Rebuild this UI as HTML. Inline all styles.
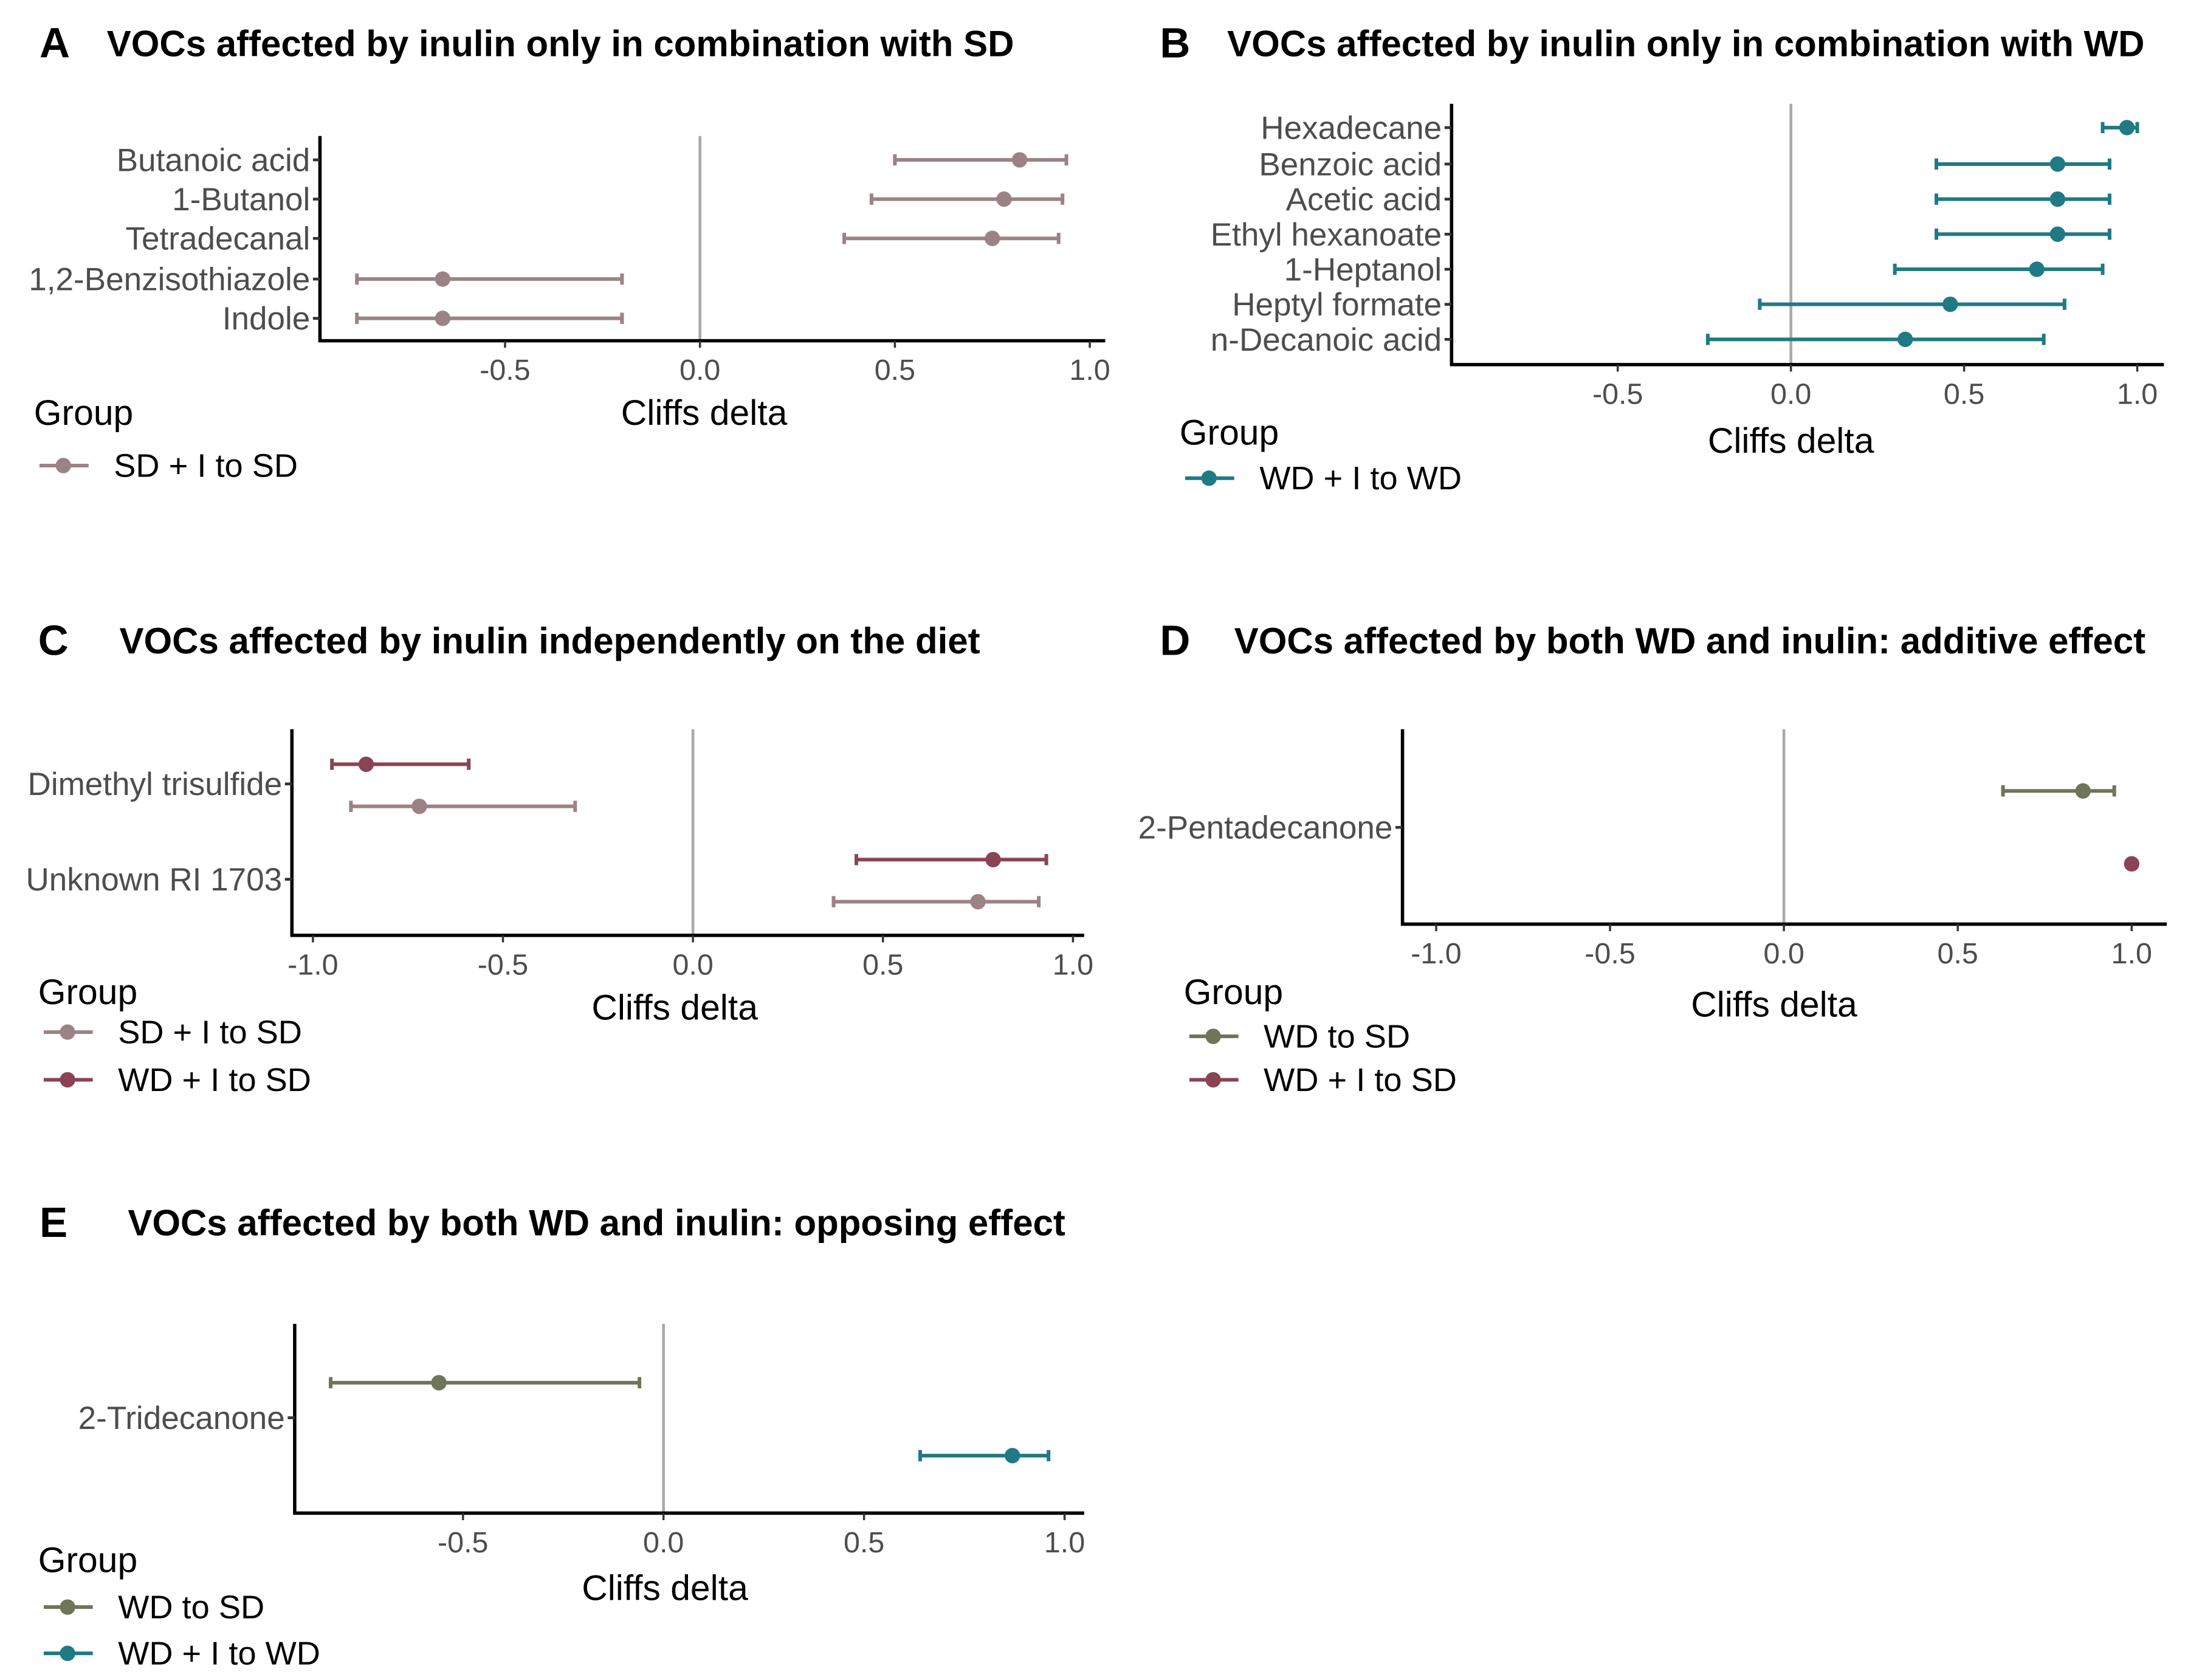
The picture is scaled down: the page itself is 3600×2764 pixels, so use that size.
<!DOCTYPE html>
<html><head><meta charset="utf-8"><style>
html,body{margin:0;padding:0;background:#fff}
svg{display:block}
text{font-family:"Liberation Sans",Arial,sans-serif}
</style></head><body>
<svg id="fig" width="3600" height="2764" viewBox="0 0 1560 1198" xmlns="http://www.w3.org/2000/svg"><g id="root" transform="translate(-2,-1)"></g></svg>
<script>
// Panel A data
const aCategories = ["Butanoic acid","1-Butanol","Tetradecanal","1,2-Benzisothiazole","Indole"];
const aEst = [0.82,0.78,0.75,-0.66,-0.66];
const aLow = [0.50,0.44,0.37,-0.88,-0.88];
const aHigh = [0.94,0.93,0.92,-0.20,-0.20];
// Panel B data
const bCategories = ["Hexadecane","Benzoic acid","Acetic acid","Ethyl hexanoate","1-Heptanol","Heptyl formate","n-Decanoic acid"];
const bEst = [0.97,0.77,0.77,0.77,0.71,0.46,0.33];
const bLow = [0.90,0.42,0.42,0.42,0.30,-0.09,-0.24];
const bHigh = [1.00,0.92,0.92,0.92,0.90,0.79,0.73];
// Panel C data
const cCategories = ["Dimethyl trisulfide","Unknown RI 1703"];
const cSdEst = [-0.72,0.75], cSdLow = [-0.90,0.37], cSdHigh = [-0.31,0.91];
const cWdEst = [-0.86,0.79], cWdLow = [-0.95,0.43], cWdHigh = [-0.59,0.93];
// Panel D data
const dCategories = ["2-Pentadecanone"];
const dWdEst = [0.86], dWdLow = [0.63], dWdHigh = [0.95];
const dWdiEst = [1.00], dWdiLow = [1.00], dWdiHigh = [1.00];
// Panel E data
const eCategories = ["2-Tridecanone"];
const eWdEst = [-0.56], eWdLow = [-0.83], eWdHigh = [-0.06];
const eWdiEst = [0.87], eWdiLow = [0.64], eWdiHigh = [0.96];
const xTicksAB = [-0.5,0,0.5,1.0];
const xTicksCD = [-1.0,-0.5,0,0.5,1.0];
const xTickLabelsAB = ["-0.5","0.0","0.5","1.0"];
const xTickLabelsCD = ["-1.0","-0.5","0.0","0.5","1.0"];

const C_SDI="#9b8385", C_WDIW="#1f7a85", C_WDIS="#8b4455", C_WD="#6e7558";
const svg=document.getElementById('root');
const NS="http://www.w3.org/2000/svg";
function mk(tag,attrs,parent){const e=document.createElementNS(NS,tag);for(const k in attrs)e.setAttribute(k,attrs[k]);(parent||svg).appendChild(e);return e;}
function txt(s,x,y,size,fill,anchor,weight,parent){const t=mk('text',{x:x,y:y,'font-size':size,fill:fill,'text-anchor':anchor||'start','font-weight':weight||'normal'},parent);t.textContent=s;return t;}

function panel(p){
  const g=mk('g',{});
  
  
  const sx=v=>p.x0+(v-p.v0)*p.ppu;
  const tl=txt(p.id.toUpperCase(),p.tx,p.ty+10,30,'#000','start','bold',g);
  
  
  const tt=txt(p.title,p.ttx,p.ty+9,26,'#000','start','bold',g);
  
  
  const zl=mk('line',{x1:sx(0),x2:sx(0),y1:p.yTop,y2:p.yBot,stroke:'#aaa','stroke-width':2},g);
  
  
  const ya=mk('line',{x1:p.axX,x2:p.axX,y1:p.yTop,y2:p.yBot+1,stroke:'#000','stroke-width':2.4},g);
  
  
  const xa=mk('line',{x1:p.axX-1,x2:p.xEnd,y1:p.yBot,y2:p.yBot,stroke:'#000','stroke-width':2.4},g);
  
  
  p.ticks.forEach((v,i)=>{
    mk('line',{x1:sx(v),x2:sx(v),y1:p.yBot,y2:p.yBot+5,stroke:'#333','stroke-width':1.5},g);
    const t=txt(p.tickLabels[i],sx(v),p.yBot+28,21,'#4d4d4d','middle','normal',g);
    
    
  });
  p.cats.forEach((c,i)=>{
    const y=p.catY[i];
    mk('line',{x1:p.axX-5,x2:p.axX,y1:y,y2:y,stroke:'#333','stroke-width':2},g);
    const t=txt(c,p.axX-7,y+8,23,'#4d4d4d','end','normal',g);
    
    
  });
  const xt=txt('Cliffs delta',p.xtX,p.xtY+9,25.5,'#000','middle','normal',g);
  
  
  p.series.forEach(s=>{
    s.est.forEach((v,i)=>{
      const y=p.catY[i]+s.off;
      if(s.high[i]>s.low[i]){
        const eb=mk('path',{d:`M${sx(s.low[i])},${y}H${sx(s.high[i])}M${sx(s.low[i])},${y-4}V${y+4}M${sx(s.high[i])},${y-4}V${y+4}`,stroke:s.color,'stroke-width':2.6,fill:'none'},g);
        
        
      }
      const pt=mk('circle',{cx:sx(v),cy:y,r:5.5,fill:s.color},g);
      
      
    });
  });
  const lg=txt('Group',p.lgX,p.lgY+9,25.5,'#000','start','normal',g);
  
  
  p.legend.forEach(l=>{
    const le=mk('g',{},g);
    
    
    mk('line',{x1:p.lgX+4,x2:p.lgX+39,y1:l.y,y2:l.y,stroke:l.color,'stroke-width':2.6},le);
    mk('circle',{cx:p.lgX+21,cy:l.y,r:5.5,fill:l.color},le);
    txt(l.label,p.lgX+57,l.y+8,23.5,'#000','start','normal',le);
  });
}

panel({id:'a',title:'VOCs affected by inulin only in combination with SD',tx:30,ty:32,ttx:78,
  x0:501,v0:0,ppu:278,axX:230,xEnd:790,yTop:98,yBot:244,ticks:xTicksAB,tickLabels:xTickLabelsAB,
  cats:aCategories,catY:[115,143,171,200,228],xtX:504,xtY:295,
  series:[{est:aEst,low:aLow,high:aHigh,color:C_SDI,off:0}],
  lgX:26,lgY:295,legend:[{y:333,color:C_SDI,label:'SD + I to SD'}]});

panel({id:'b',title:'VOCs affected by inulin only in combination with WD',tx:829,ty:32,ttx:877,
  x0:1279,v0:0,ppu:247,axX:1037,xEnd:1545,yTop:75,yBot:261,ticks:xTicksAB,tickLabels:xTickLabelsAB,
  cats:bCategories,catY:[92,118,143,168,193,218,243],xtX:1279,xtY:315,
  series:[{est:bEst,low:bLow,high:bHigh,color:C_WDIW,off:0}],
  lgX:843,lgY:309,legend:[{y:342,color:C_WDIW,label:'WD + I to WD'}]});

panel({id:'c',title:'VOCs affected by inulin independently on the diet',tx:29,ty:458,ttx:87,
  x0:496,v0:0,ppu:271,axX:210,xEnd:775,yTop:521,yBot:668,ticks:xTicksCD,tickLabels:xTickLabelsCD,
  cats:cCategories,catY:[560,628],xtX:483,xtY:719,
  series:[{est:cWdEst,low:cWdLow,high:cWdHigh,color:C_WDIS,off:-14},
          {est:cSdEst,low:cSdLow,high:cSdHigh,color:C_SDI,off:16}],
  lgX:29,lgY:708,legend:[{y:737,color:C_SDI,label:'SD + I to SD'},{y:771,color:C_WDIS,label:'WD + I to SD'}]});

panel({id:'d',title:'VOCs affected by both WD and inulin: additive effect',tx:829,ty:458,ttx:882,
  x0:1274,v0:0,ppu:248,axX:1002,xEnd:1547,yTop:521,yBot:660,ticks:xTicksCD,tickLabels:xTickLabelsCD,
  cats:dCategories,catY:[591],xtX:1267,xtY:717,
  series:[{est:dWdEst,low:dWdLow,high:dWdHigh,color:C_WD,off:-26},
          {est:dWdiEst,low:dWdiLow,high:dWdiHigh,color:C_WDIS,off:26}],
  lgX:846,lgY:708,legend:[{y:740,color:C_WD,label:'WD to SD'},{y:771,color:C_WDIS,label:'WD + I to SD'}]});

panel({id:'e',title:'VOCs affected by both WD and inulin: opposing effect',tx:30,ty:873,ttx:93,
  x0:475,v0:0,ppu:286,axX:212,xEnd:775,yTop:945,yBot:1080,ticks:xTicksAB,tickLabels:xTickLabelsAB,
  cats:eCategories,catY:[1012],xtX:476,xtY:1133,
  series:[{est:eWdEst,low:eWdLow,high:eWdHigh,color:C_WD,off:-25},
          {est:eWdiEst,low:eWdiLow,high:eWdiHigh,color:C_WDIW,off:27}],
  lgX:29,lgY:1113,legend:[{y:1147,color:C_WD,label:'WD to SD'},{y:1180,color:C_WDIW,label:'WD + I to WD'}]});
</script>
</body></html>
